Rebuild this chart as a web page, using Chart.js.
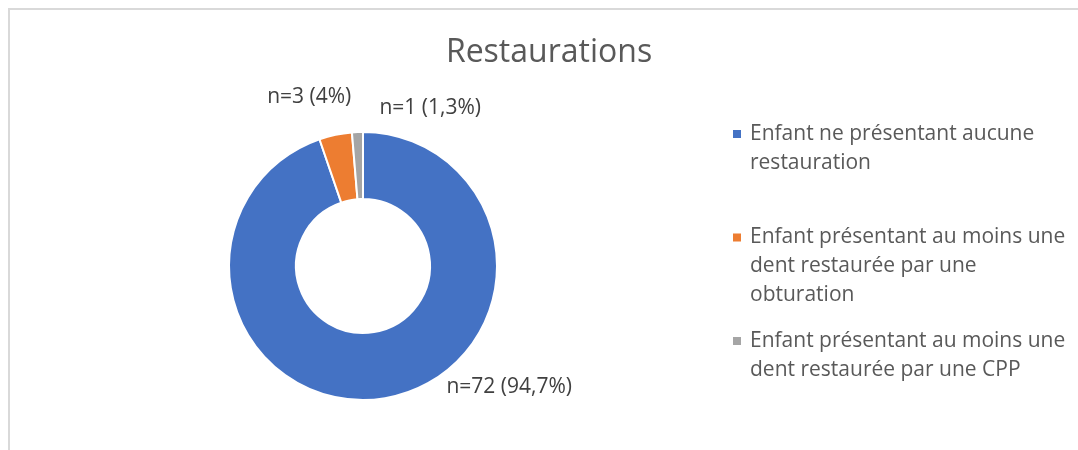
<!DOCTYPE html>
<html>
<head>
<meta charset="utf-8">
<script src="https://cdn.jsdelivr.net/npm/chart.js@4/dist/chart.umd.min.js"></script>
<style>
html,body{margin:0;padding:0;width:1078px;height:450px;overflow:hidden;background:#fff;}
#frame{position:absolute;left:8px;top:8px;width:2000px;height:2000px;border:2px solid #d9d9d9;box-sizing:border-box;}
#wrap{position:absolute;left:0;top:0;width:1078px;height:450px;}
</style>
</head>
<body>
<div id="frame"></div>
<div id="wrap"><canvas id="c" width="1078" height="450"></canvas></div>
<script>
const chartTitle = 'Restaurations';
const categories = [
  'Enfant ne présentant aucune restauration',
  'Enfant présentant au moins une dent restaurée par une obturation',
  'Enfant présentant au moins une dent restaurée par une CPP'
];
const counts = [72, 3, 1];
const valueLabels = ['n=72 (94,7%)', 'n=3 (4%)', 'n=1 (1,3%)'];
const colors = ['#4472C4', '#ED7D31', '#A5A5A5'];

const FONT = '"Open Sans", sans-serif';
// label placement relative to doughnut centre: angle (deg, clockwise from top), distance
const labelPlacement = [{a: 129.7, d: 190}, {a: -17.7, d: 177}, {a: 23, d: 172}];

function wrapText(ctx, text, maxW) {
  const words = text.split(' ');
  const lines = [];
  let cur = '';
  for (const w of words) {
    const t = cur ? cur + ' ' + w : w;
    if (ctx.measureText(t).width > maxW && cur) { lines.push(cur); cur = w; }
    else cur = t;
  }
  if (cur) lines.push(cur);
  return lines;
}

const extras = {
  id: 'extras',
  afterDraw(chart) {
    const ctx = chart.ctx;
    ctx.save();
    // title
    ctx.fillStyle = '#595959';
    ctx.font = '32px ' + FONT;
    ctx.textAlign = 'center';
    ctx.textBaseline = 'middle';
    ctx.fillText(chartTitle, 549, 53);
    // data labels
    const meta = chart.getDatasetMeta(0);
    ctx.font = '21px ' + FONT;
    ctx.fillStyle = '#404040';
    meta.data.forEach((arc, i) => {
      const p = labelPlacement[i];
      const rad = p.a * Math.PI / 180;
      const x = arc.x + Math.sin(rad) * p.d;
      const y = arc.y - Math.cos(rad) * p.d;
      ctx.fillText(valueLabels[i], x, y);
    });
    // legend
    ctx.textAlign = 'left';
    ctx.font = '21px ' + FONT;
    const lx = 733, tx = 750, y0 = 134, step = 103.5, lh = 29, maxW = 322;
    categories.forEach((cat, i) => {
      const y = y0 + i * step;
      ctx.fillStyle = colors[i];
      ctx.fillRect(lx, y - 4, 8, 8);
      ctx.fillStyle = '#595959';
      wrapText(ctx, cat, maxW).forEach((ln, j) => ctx.fillText(ln, tx, y + j * lh));
    });
    ctx.restore();
  }
};

new Chart(document.getElementById('c'), {
  type: 'doughnut',
  data: {
    labels: categories,
    datasets: [{
      data: counts,
      backgroundColor: colors,
      borderColor: '#ffffff',
      borderWidth: 2
    }]
  },
  options: {
    responsive: false,
    animation: false,
    cutout: '50%',
    layout: {padding: {left: 228, right: 580, top: 131, bottom: 49}},
    plugins: {legend: {display: false}, title: {display: false}, tooltip: {enabled: false}}
  },
  plugins: [extras]
});
</script>
</body>
</html>
